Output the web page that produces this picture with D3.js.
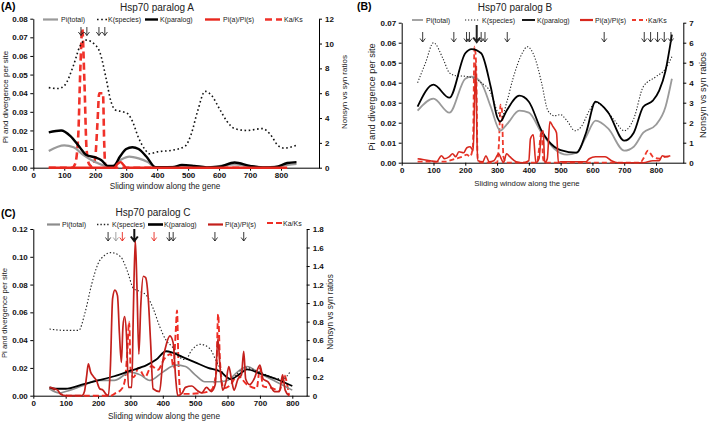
<!DOCTYPE html>
<html><head><meta charset="utf-8">
<script src="https://cdn.jsdelivr.net/npm/d3@7"></script>
<style>body{margin:0;background:#fff}</style>
</head><body>
<script>
// ---------------- DATA ----------------
const xTicks = [0,100,200,300,400,500,600,700,800];
const legendLabels = ["Pi(total)","K(species)","K(paralog)","Pi(a)/Pi(s)","Ka/Ks"];

// Panel A (left axis 0-0.08, right axis 0-12)
const A_piTotal = [[50,0.009],[100,0.012],[130,0.011],[160,0.007],[200,0.003],[230,0.001],[250,0.0005],[280,0.004],[310,0.006],[340,0.005],[370,0.003],[395,0.0002],[450,0.0005],[500,0.0008],[560,0.0002],[650,0.0018],[700,0.0008],[750,0.0002],[800,0.001],[850,0.002]];
const A_kSpecies = [[50,0.043],[80,0.0425],[100,0.044],[130,0.055],[150,0.065],[170,0.0685],[200,0.066],[215,0.062],[235,0.048],[250,0.036],[265,0.031],[290,0.030],[305,0.029],[320,0.025],[340,0.016],[360,0.010],[375,0.0075],[400,0.0085],[450,0.0094],[490,0.0115],[510,0.018],[530,0.030],[555,0.041],[575,0.039],[600,0.032],[625,0.025],[650,0.021],[690,0.020],[740,0.021],[765,0.018],[790,0.012],[810,0.0105],[850,0.012]];
const A_kParalog = [[50,0.019],[90,0.020],[120,0.017],[150,0.011],[170,0.007],[200,0.0055],[220,0.004],[240,0.001],[260,0.001],[280,0.006],[300,0.010],[320,0.011],[340,0.010],[365,0.006],[395,0.0003],[450,0.0003],[480,0.0015],[520,0.001],[560,0.0002],[600,0.0005],[650,0.0028],[700,0.001],[740,0.0002],[780,0.0003],[820,0.0025],[850,0.003]];
const A_piRatio = [[50,0],[262,0],[272,0.3],[282,0.45],[292,0.2],[300,0],[820,0]];
const A_kaks = [[50,0],[125,0],[135,0.3],[145,2.5],[152,8],[158,11.2],[165,7],[172,1.5],[180,0.3],[190,0.1],[200,0.8],[207,3.5],[213,6],[225,6],[229,2],[233,0],[820,0]];
const A_arrows = [154,173,212,231];

// Panel B (left axis 0-0.07, right axis 0-7)
const B_piTotal = [[50,0.026],[100,0.032],[150,0.025],[200,0.042],[220,0.043],[250,0.040],[280,0.028],[310,0.016],[330,0.019],[370,0.026],[400,0.025],[440,0.015],[480,0.007],[520,0.004],[550,0.005],[580,0.013],[610,0.021],[650,0.017],[700,0.006],[730,0.008],[760,0.015],[800,0.019],[830,0.028],[850,0.042]];
const B_kSpecies = [[50,0.040],[75,0.050],[100,0.060],[130,0.052],[150,0.045],[170,0.0435],[200,0.0432],[230,0.042],[250,0.040],[280,0.035],[300,0.026],[315,0.023],[330,0.030],[350,0.042],[380,0.055],[395,0.058],[420,0.052],[440,0.040],[460,0.026],[480,0.0235],[500,0.024],[520,0.021],[545,0.016],[565,0.018],[590,0.026],[610,0.030],[640,0.027],[670,0.021],[700,0.016],[730,0.022],[760,0.038],[800,0.043],[830,0.047],[850,0.053]];
const B_kParalog = [[50,0.028],[100,0.039],[150,0.0325],[200,0.0547],[220,0.0568],[250,0.0547],[280,0.038],[300,0.023],[310,0.0205],[330,0.026],[370,0.0335],[400,0.0305],[440,0.016],[480,0.008],[500,0.0063],[550,0.005],[580,0.015],[610,0.0305],[650,0.025],[700,0.011],[730,0.015],[760,0.028],[790,0.031],[810,0.036],[830,0.046],[850,0.064]];
const B_piRatio = [[50,0.2],[70,0.15],[90,0.1],[110,0.05],[125,0.35],[135,0.2],[150,0.3],[160,0.45],[170,0.3],[180,0.55],[195,0.5],[205,0.75],[215,0.8],[225,0.6],[229,3],[233,5.0],[237,1],[240,0.1],[255,0.05],[265,0.35],[275,0.05],[290,0.1],[305,0.45],[313,0.2],[320,0.0],[330,0.45],[340,0.3],[360,0.05],[380,0.0],[400,0.1],[405,1.2],[414,1.4],[422,0.0],[432,0.2],[440,1.5],[445,1.6],[450,0.0],[458,0.2],[466,2.05],[476,1.8],[487,1.5],[493,0.0],[500,0.05],[580,0.05],[590,0.2],[610,0.3],[640,0.3],[660,0.1],[680,0],[760,0],[790,0.1],[810,0.1],[820,0.35],[830,0.3],[845,0.35]];
const B_kaks = [[50,0.05],[140,0.05],[150,0.1],[170,0.2],[190,0.3],[205,0.4],[215,0.3],[224,0.8],[229,5.8],[234,5.0],[239,0.2],[250,0.0],[300,0.0],[306,1.0],[311,2.9],[315,2.7],[320,0.3],[330,0],[425,0],[433,0.8],[440,1.6],[445,0.2],[450,0],[750,0],[760,0.2],[775,0.6],[790,0.3],[810,0.2],[830,0.3],[845,0.3]];
const B_arrows = [66,164,204,213,236,250,262,332,637,763,783,805,826,847];
const B_boldArrow = 236;

// Panel C (left axis 0-0.12, right axis 0-1.8)
const C_piTotal = [[50,0.005],[80,0.002],[100,0.003],[150,0.007],[200,0.011],[250,0.011],[300,0.017],[330,0.015],[360,0.011],[400,0.017],[440,0.022],[470,0.021],[500,0.015],[530,0.010],[570,0.010],[600,0.011],[630,0.017],[660,0.021],[700,0.016],[750,0.010],[800,0.004]];
const C_kSpecies = [[50,0.048],[100,0.047],[140,0.047],[160,0.060],[180,0.080],[200,0.095],[220,0.101],[240,0.103],[270,0.100],[290,0.090],[310,0.077],[330,0.075],[350,0.072],[370,0.063],[390,0.050],[410,0.040],[430,0.035],[450,0.028],[470,0.026],[490,0.033],[515,0.037],[545,0.034],[565,0.025],[590,0.015],[610,0.012],[640,0.018],[660,0.020],[700,0.017],[740,0.013],[770,0.012],[795,0.018]];
const C_kParalog = [[50,0.006],[70,0.005],[100,0.005],[150,0.008],[200,0.011],[250,0.014],[300,0.018],[350,0.022],[380,0.026],[410,0.032],[430,0.031],[460,0.028],[500,0.024],[540,0.020],[580,0.017],[600,0.013],[610,0.012],[640,0.016],[660,0.019],[700,0.016],[750,0.012],[800,0.007]];
const C_piRatio = [[50,0.09],[60,0.083],[75,0.06],[85,0.015],[100,0],[150,0],[158,0.045],[165,0.22],[170,0.345],[177,0.255],[185,0.21],[195,0.165],[205,0.075],[215,0.06],[225,0.015],[232,0],[238,0.3],[245,1.05],[252,1.14],[260,1.08],[266,0.675],[272,0.36],[277,0.75],[282,0.855],[288,0.645],[294,0.09],[304,0.09],[309,0.9],[315,1.68],[320,1.2],[326,0.45],[332,0.975],[340,1.29],[347,1.275],[355,1.05],[362,0.6],[370,0.075],[390,0.045],[400,0.375],[412,0.57],[422,0.645],[432,0.57],[440,0.18],[446,0],[460,0.03],[470,0.09],[490,0.105],[505,0.06],[520,0.03],[535,0.09],[550,0.045],[562,0.12],[570,0.615],[577,0.3],[585,0.06],[595,0.15],[604,0.315],[612,0.18],[620,0.06],[632,0.18],[643,0.225],[650,0.48],[656,0.18],[668,0.12],[682,0.18],[700,0.33],[710,0.18],[725,0.15],[745,0.045],[760,0.045],[770,0.225],[778,0.06],[790,0]];
const C_kaks = [[50,0.075],[70,0.06],[90,0.01],[110,0],[240,0],[255,0.03],[270,0.06],[282,0.15],[290,0.45],[296,0.8],[301,0.25],[310,0.2],[325,0.3],[345,0.2],[365,0.32],[385,0.28],[405,0.4],[425,0.45],[433,0.3],[440,0.7],[444,0.92],[448,0.4],[455,0.02],[480,0.02],[520,0.03],[550,0.06],[565,0.25],[571,0.88],[577,0.35],[588,0.08],[610,0.12],[630,0.22],[660,0.12],[690,0.08],[700,0.3],[710,0.1],[740,0.08],[760,0.05],[775,0.22],[790,0]];
const C_arrows = [231,255,275,312,373,420,432,561,650];
const C_arrowColors = ["#222","#999","#e8281e","#111","#e8281e","#222","#222","#222","#222"];

// ---------------- DRAW ----------------
const svg = d3.select("body").append("svg").attr("width",709).attr("height",421)
  .style("font-family",'"Liberation Sans", Arial, Helvetica, sans-serif');

function drawPanel(p){
  const g = svg.append("g");
  const x = d3.scaleLinear().domain([0,800]).range([p.x0,p.x800]);
  const yL = d3.scaleLinear().domain([0,p.lmax]).range([p.yb,p.yt]);
  const yR = d3.scaleLinear().domain([0,p.rmax]).range([p.yb,p.yt]);
  const xEnd = x.invert(p.xr);

  const lt = d3.range(0, p.lmax + p.lstep/2, p.lstep);
  const rt = d3.range(0, p.rmax + p.rstep/2, p.rstep);
  const ax = g.append("g").attr("transform",`translate(${p.x0},0)`)
    .call(d3.axisLeft(yL).tickValues(lt).tickFormat(d3.format(".2f")).tickSize(3).tickPadding(2.5).tickSizeOuter(0));
  const ar = g.append("g").attr("transform",`translate(${p.xr},0)`)
    .call(d3.axisRight(yR).tickValues(rt).tickFormat(d=> d===0?"0":p.rfmt(d)).tickSize(3).tickPadding(3).tickSizeOuter(0));
  const xs = d3.scaleLinear().domain([0,xEnd]).range([p.x0,p.xr]);
  const axb = g.append("g").attr("transform",`translate(0,${p.yb})`)
    .call(d3.axisBottom(xs).tickValues(xTicks).tickFormat(d3.format("d")).tickSize(3).tickPadding(1.5).tickSizeOuter(0));
  [ax,ar,axb].forEach(a=>{
    a.selectAll("path").attr("stroke","#000").attr("stroke-width",1);
    a.selectAll("line").attr("stroke","#000");
    a.selectAll("text").attr("font-size","8px").attr("font-weight","bold").attr("fill","#111")
      .attr("font-family",'"Liberation Sans", Arial, sans-serif');
  });

  const lineL = d3.line().x(d=>x(d[0])).y(d=>yL(d[1])).curve(d3.curveMonotoneX);
  const lineR = d3.line().x(d=>x(d[0])).y(d=>yR(d[1])).curve(d3.curveMonotoneX);
  const st = p.styles;
  const add = (data, gen, s) => g.append("path").datum(data).attr("d",gen)
      .attr("fill","none").attr("stroke",s.c).attr("stroke-width",s.w)
      .attr("stroke-dasharray",s.d||null).attr("stroke-linejoin","round");
  add(p.kaks, lineR, st.kaks);
  add(p.piTotal, lineL, st.piTotal);
  add(p.kSpecies, lineL, st.kSpecies);
  add(p.kParalog, lineL, st.kParalog);
  add(p.piRatio, lineR, st.piRatio);

  p.arrows.forEach((a,i)=>{
    const bold = p.bold === a;
    const xx = x(a);
    const y1 = bold ? p.arrowBoldTop : p.arrowTop, y2 = p.arrowBot;
    const col = p.arrowColors ? p.arrowColors[i] : "#222";
    const w = bold ? 2 : 0.9, hw = bold ? 3.5 : 2.6, hh = bold ? 4.5 : 3.5;
    g.append("path").attr("d",`M${xx},${y1}V${y2}M${xx-hw},${y2-hh}L${xx},${y2}L${xx+hw},${y2-hh}`)
      .attr("fill","none").attr("stroke",col).attr("stroke-width",w);
  });

  const keys = ["piTotal","kSpecies","kParalog","piRatio","kaks"];
  keys.forEach((k,i)=>{
    const L = p.legend[i];
    const s = st[k];
    g.append("line").attr("x1",L[0]).attr("x2",L[1]).attr("y1",L[3]).attr("y2",L[3])
      .attr("stroke",s.c).attr("stroke-width",s.lw||s.w).attr("stroke-dasharray",s.ld||s.d||null);
    g.append("text").attr("x",L[2]).attr("y",L[3]+2.6).attr("font-size","7px").attr("fill","#222")
      .text(legendLabels[i]);
  });

  g.append("text").attr("x",p.label[0]).attr("y",p.label[1]).attr("font-size","10.5px").attr("font-weight","bold").text(p.labelText);
  g.append("text").attr("x",p.title[0]).attr("y",p.title[1]).attr("text-anchor","middle").attr("font-size","10px").attr("fill","#222").text(p.titleText);
  g.append("text").attr("x",p.xTitle[0]).attr("y",p.xTitle[1]).attr("text-anchor","middle").attr("font-size",p.xTitle[2]+"px").attr("fill","#222").text("Sliding window along the gene");
  g.append("text").attr("transform",`translate(${p.lTitle[0]},${p.lTitle[1]}) rotate(-90)`).attr("text-anchor","middle").attr("font-size",p.lTitle[2]+"px").attr("fill","#222").text("Pi and divergence per site");
  g.append("text").attr("transform",`translate(${p.rTitle[0]},${p.rTitle[1]}) rotate(-90)`).attr("text-anchor","middle").attr("font-size",p.rTitle[2]+"px").attr("fill","#222").text("Nonsyn vs syn ratios");
}

drawPanel({
  x0:33.3, x800:281, xr:319, yb:167.7, yt:18.7, lmax:0.08, lstep:0.01, rmax:12, rstep:2, rfmt:d3.format("d"),
  piTotal:A_piTotal, kSpecies:A_kSpecies, kParalog:A_kParalog, piRatio:A_piRatio, kaks:A_kaks,
  arrows:A_arrows, arrowTop:27, arrowBot:35.5,
  styles:{piTotal:{c:"#9a9a9a",w:2.2}, kSpecies:{c:"#111",w:1.6,d:"1.6,2.6"}, kParalog:{c:"#000",w:2.4},
          piRatio:{c:"#e8281e",w:2.4}, kaks:{c:"#f0322a",w:2.6,d:"7,4"}},
  legend:[[43,58,61,19.5],[97,107,108,19.5],[145,158,160,19.5],[205,220,223,19.5],[265,282,284,19.5]],
  label:[1,9.5], labelText:"(A)", title:[157,10.5], titleText:"Hsp70 paralog A",
  xTitle:[165,188.5,8.2], lTitle:[7.5,97,8], rTitle:[347,92,8]
});
drawPanel({
  x0:401.7, x800:656, xr:683.3, yb:162.7, yt:22.7, lmax:0.07, lstep:0.01, rmax:7, rstep:1, rfmt:d3.format("d"),
  piTotal:B_piTotal, kSpecies:B_kSpecies, kParalog:B_kParalog, piRatio:B_piRatio, kaks:B_kaks,
  arrows:B_arrows, bold:B_boldArrow, arrowTop:32, arrowBoldTop:25, arrowBot:42,
  styles:{piTotal:{c:"#9a9a9a",w:1.8}, kSpecies:{c:"#222",w:1.1,d:"1.2,1.8"}, kParalog:{c:"#000",w:1.8},
          piRatio:{c:"#d8281e",w:1.6,lw:2.2}, kaks:{c:"#ee3a2c",w:1.8,d:"5,3",ld:"4,3"}},
  legend:[[412,423,426,20],[465,480,482,20],[522,535,537,20],[580,593,595,20],[632,647,648,20]],
  label:[357,10], labelText:"(B)", title:[515,11], titleText:"Hsp70 paralog B",
  xTitle:[527,186,7.8], lTitle:[375,97,9.3], rTitle:[706,95,9.3]
});
drawPanel({
  x0:33.3, x800:292.3, xr:306.7, yb:395.7, yt:229, lmax:0.12, lstep:0.02, rmax:1.8, rstep:0.2, rfmt:d3.format(".1f"),
  piTotal:C_piTotal, kSpecies:C_kSpecies, kParalog:C_kParalog, piRatio:C_piRatio, kaks:C_kaks,
  arrows:C_arrows, bold:312, arrowColors:C_arrowColors, arrowTop:232, arrowBoldTop:229, arrowBot:241,
  styles:{piTotal:{c:"#8c8c8c",w:1.6,lw:2.2}, kSpecies:{c:"#222",w:1.1,d:"1.4,2",lw:1.6}, kParalog:{c:"#000",w:1.8,lw:2.6},
          piRatio:{c:"#c4201c",w:1.7,lw:2.2}, kaks:{c:"#ee2d24",w:1.9,d:"6,3",lw:2.2}},
  legend:[[47,60,62,224.5],[97,110,112,224.5],[148,163,164,224.5],[208,223,225,224.5],[267,282,283,223]],
  label:[1,217], labelText:"(C)", title:[153,215.5], titleText:"Hsp70 paralog C",
  xTitle:[164,419,8.3], lTitle:[7,313,7.8], rTitle:[333,312,8.2]
});
</script>
</body></html>
